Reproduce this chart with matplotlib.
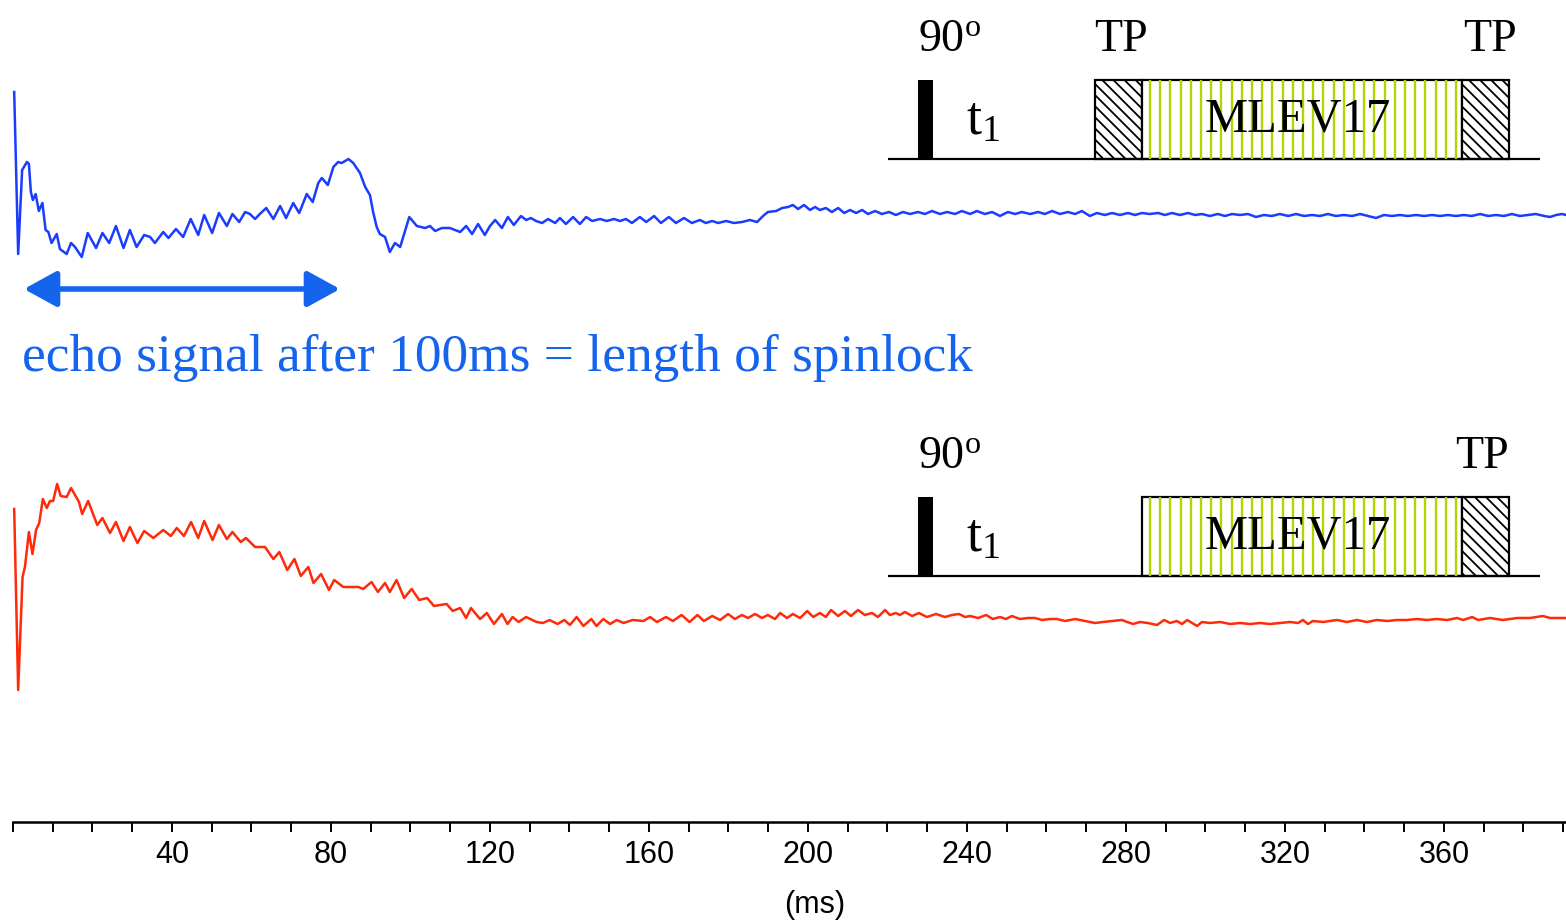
import matplotlib.pyplot as plt
import matplotlib.patches as mpatches
from matplotlib.ticker import MultipleLocator, FixedLocator
import numpy as np

plt.rcParams['font.family'] = ['Liberation Sans', 'DejaVu Sans']
plt.rcParams['hatch.linewidth'] = 1.3

# upper trace (echo after spinlock), time in ms, signal in arbitrary units
blue_t = [0.3, 1.3, 2.3, 3.5, 4.0, 4.5, 5.0, 5.7, 6.5, 7.4,
          8.2, 8.9, 9.7, 11.0, 11.8, 13.5, 14.6, 15.6, 17.3, 18.8,
          20.9, 22.5, 24.2, 25.9, 27.8, 29.4, 31.1, 33.0, 34.5, 35.7,
          37.8, 39.1, 41.0, 42.8, 44.7, 46.6, 48.1, 50.1, 51.8, 53.8,
          55.2, 56.9, 58.4, 59.6, 60.9, 62.1, 63.7, 65.5, 67.2, 68.7,
          70.5, 72.0, 73.9, 75.4, 76.8, 77.7, 79.2, 80.6, 81.8, 82.7,
          84.4, 85.6, 87.3, 88.6, 89.8, 90.6, 91.5, 92.3, 93.6, 94.8,
          96.1, 97.4, 99.7, 101.6, 103.7, 104.9, 106.2, 107.9, 109.9, 111.2,
          112.5, 114.0, 115.5, 117.0, 118.7, 120.0, 121.3, 123.0, 124.5, 126.0,
          127.8, 129.1, 130.3, 131.6, 133.1, 134.6, 136.4, 137.6, 139.1, 140.9,
          142.6, 144.2, 145.7, 147.7, 149.4, 151.2, 152.7, 154.2, 155.7, 157.7,
          159.3, 161.3, 163.0, 165.0, 166.8, 168.8, 170.8, 172.8, 174.3, 175.9,
          177.4, 179.4, 181.4, 183.4, 185.4, 187.2, 188.7, 189.9, 192.0, 193.5,
          195.0, 196.2, 197.5, 199.0, 200.5, 201.8, 203.0, 204.5, 206.0, 207.6,
          209.1, 210.6, 212.1, 213.6, 215.1, 216.9, 218.6, 220.4, 222.1, 223.9,
          225.7, 227.7, 229.4, 231.2, 233.2, 235.0, 237.0, 238.7, 240.8, 242.5,
          244.5, 246.3, 248.3, 250.3, 252.1, 253.8, 255.9, 257.9, 259.6, 261.4,
          263.4, 265.4, 267.2, 268.9, 270.9, 272.7, 274.7, 276.5, 278.5, 280.5,
          282.3, 284.0, 286.0, 288.1, 289.8, 291.6, 293.6, 295.6, 297.4, 299.1,
          301.1, 303.1, 304.9, 306.7, 308.7, 310.7, 312.7, 314.7, 316.7, 318.7,
          320.8, 322.8, 324.8, 326.8, 328.8, 330.8, 332.8, 334.8, 336.9, 338.9,
          340.9, 342.9, 344.9, 346.9, 348.9, 350.9, 353.0, 355.0, 357.0, 359.0,
          361.0, 363.0, 365.0, 367.0, 369.1, 371.1, 373.1, 375.1, 377.1, 379.1,
          381.1, 383.1, 385.2, 386.7, 388.2, 389.7, 390.7]
blue_v = [122, -40, 44, 52, 50, 22, 14, 20, 3, 11,
          -16, -18, -29, -20, -35, -40, -29, -33, -43, -19,
          -34, -19, -29, -12, -34, -16, -33, -21, -23, -29,
          -18, -24, -15, -23, -5, -21, -1, -19, 1, -12,
          0, -8, 2, 0, -5, 0, 6, -5, 8, -4,
          11, 1, 20, 12, 31, 36, 29, 47, 52, 51,
          55, 51, 41, 27, 19, 2, -13, -20, -23, -38,
          -29, -33, -3, -12, -14, -12, -17, -14, -14, -16,
          -18, -12, -20, -10, -21, -12, -6, -14, -3, -11,
          -2, -6, -4, -7, -9, -5, -9, -4, -10, -3,
          -10, -3, -7, -5, -7, -5, -7, -5, -9, -3,
          -8, -2, -9, -3, -9, -4, -9, -6, -9, -7,
          -9, -7, -9, -8, -6, -8, -2, 2, 3, 6,
          7, 9, 5, 9, 4, 7, 4, 6, 2, 6,
          1, 4, 1, 4, 0, 3, 0, 2, -1, 2,
          0, 2, 0, 3, 0, 2, 0, 3, 0, 3,
          0, 2, -2, 2, 0, 2, 0, 2, 0, 3,
          0, 2, 0, 3, -2, 1, -1, 1, -1, 1,
          -1, 1, 0, 1, -1, 1, -1, 1, -1, 0,
          -2, 0, -2, 0, -1, 0, -3, -1, -2, 0,
          -2, 0, -2, -1, -2, 0, -2, -1, -2, 0,
          -2, -4, -1, -2, -1, -2, -1, -2, -1, -2,
          -1, -2, -1, -2, 0, -2, -1, -2, 0, -2,
          -1, 0, -2, -3, -1, 0, -1]

# lower trace (no first trim pulse)
red_t = [0.3, 1.3, 2.4, 3.0, 4.0, 4.9, 5.8, 6.6, 7.5, 8.5,
         9.3, 10.1, 11.1, 12.0, 13.5, 14.6, 15.6, 16.6, 17.4, 18.9,
         21.2, 22.5, 24.4, 25.9, 27.8, 29.4, 31.3, 33.0, 35.3, 37.8,
         39.7, 41.2, 43.0, 44.8, 46.6, 48.1, 50.2, 51.8, 53.8, 55.2,
         57.3, 58.6, 60.9, 63.4, 65.5, 67.0, 69.0, 70.8, 72.4, 74.3,
         75.6, 77.5, 79.5, 80.8, 83.1, 86.9, 88.1, 90.2, 91.8, 93.6,
         94.8, 96.5, 98.4, 100.3, 102.2, 104.2, 105.9, 109.1, 110.6, 112.5,
         114.0, 115.2, 117.5, 119.2, 121.0, 123.0, 124.4, 125.7, 127.2, 129.1,
         131.7, 133.3, 135.0, 137.0, 138.7, 140.1, 141.8, 143.5, 145.5, 146.8,
         148.5, 150.2, 151.9, 153.6, 155.9, 158.6, 160.3, 162.0, 164.3, 166.0,
         168.2, 170.2, 172.2, 173.8, 175.9, 177.9, 179.9, 181.6, 183.4, 184.9,
         186.7, 188.4, 189.9, 191.7, 193.0, 194.7, 196.2, 198.0, 199.8, 201.3,
         203.0, 204.5, 205.8, 207.6, 209.3, 210.8, 212.6, 214.3, 216.1, 217.6,
         219.4, 220.6, 222.1, 223.1, 224.4, 226.2, 227.9, 229.9, 232.2, 234.5,
         236.2, 238.0, 239.5, 240.8, 242.8, 244.8, 246.5, 248.3, 249.8, 251.3,
         253.3, 255.4, 257.1, 258.9, 260.9, 262.6, 264.7, 267.2, 269.7, 272.2,
         274.2, 276.7, 279.0, 280.3, 281.8, 283.5, 285.5, 287.8, 289.6, 291.1,
         292.8, 294.1, 295.4, 297.9, 299.1, 301.1, 303.7, 306.2, 308.7, 311.2,
         313.7, 316.2, 318.7, 321.3, 323.3, 324.5, 325.8, 327.0, 329.6, 333.1,
         335.6, 338.1, 340.6, 343.1, 345.7, 348.2, 350.7, 353.2, 355.7, 358.2,
         360.8, 363.3, 364.8, 367.1, 368.6, 371.6, 374.8, 378.4, 381.6, 384.9,
         386.7, 390.4]
red_v = [112, -69, 44, 54, 89, 67, 91, 98, 122, 113,
         120, 120, 137, 125, 124, 133, 126, 119, 107, 120,
         96, 103, 88, 99, 80, 94, 78, 90, 83, 91,
         85, 93, 85, 99, 83, 100, 81, 96, 82, 89,
         79, 83, 74, 74, 62, 69, 51, 62, 45, 54,
         38, 47, 31, 41, 34, 34, 32, 39, 29, 38,
         29, 41, 23, 32, 21, 23, 15, 17, 10, 13,
         3, 13, 2, 8, -3, 7, -3, 4, -1, 4,
         -1, -2, 1, -3, 1, -4, 4, -5, 2, -5,
         2, -3, 1, -2, 1, 0, 4, -1, 4, 0,
         6, -1, 6, 0, 5, 1, 7, 2, 6, 3,
         7, 3, 6, 2, 8, 3, 7, 3, 10, 4,
         8, 4, 11, 5, 10, 5, 11, 6, 8, 4,
         11, 6, 8, 6, 9, 5, 8, 4, 7, 4,
         6, 7, 4, 5, 3, 6, 2, 4, 2, 5,
         2, 3, 3, 1, 2, 2, 0, 2, 0, -2,
         -1, 0, 1, -1, -3, -1, -2, -4, 1, -2,
         0, -3, 1, -5, -1, -2, -1, -3, -2, -3,
         -2, -3, -2, -1, -2, 1, -3, 0, -1, 1,
         -1, 1, -1, 1, 0, 1, 1, 2, 1, 2,
         1, 3, 1, 4, 1, 3, 1, 3, 3, 5,
         3, 3]

major_ticks = [40, 80, 120, 160, 200, 240, 280, 320, 360]

BLUE = '#1a3cff'
RED = '#ff2a0a'
ECHO = '#1464ee'
GREEN = '#b4d400'
SERIF = ['Liberation Serif', 'DejaVu Serif']

W, H = 1566, 922
fig = plt.figure(figsize=(W / 100, H / 100), dpi=100)

# trace axes, y in pixel-like units above the time axis
ax = fig.add_axes([13 / W, 100 / H, (W - 13) / W, 822 / H])
ax.set_xlim(0, 390.7)
ax.set_ylim(0, 822)
blue_base = 608
red_base = 201
ax.plot(blue_t, np.array(blue_v) + blue_base, color=BLUE, lw=1.8,
        solid_joinstyle='round', clip_on=False)
ax.plot(red_t, np.array(red_v) + red_base, color=RED, lw=1.8,
        solid_joinstyle='round', clip_on=False)

for s in ['left', 'right', 'top']:
    ax.spines[s].set_visible(False)
ax.spines['bottom'].set_linewidth(1.8)
ax.set_yticks([])
ax.xaxis.set_major_locator(FixedLocator(major_ticks))
ax.xaxis.set_minor_locator(MultipleLocator(10))
ax.tick_params(axis='x', which='both', direction='out', length=7.2, width=1.4,
               labelsize=22, pad=6)
ax.patch.set_visible(False)

# overlay in pixel coordinates for the schematics and notes
ov = fig.add_axes([0, 0, 1, 1])
ov.set_xlim(0, W)
ov.set_ylim(H, 0)
ov.axis('off')


def sequence(y0, first_tp):
    top = y0 - 79
    ov.plot([888, 1540], [y0, y0], color='black', lw=1.6, solid_capstyle='butt')
    ov.add_patch(mpatches.Rectangle((918, top), 15, 79, facecolor='black',
                                    edgecolor='black', lw=0))
    ov.text(918, y0 - 108, r'$\mathregular{90^o}$', family=SERIF, fontsize=33,
            ha='left', va='baseline')
    ov.text(966, y0 - 25, r'$\mathregular{t_1}$', family=SERIF, fontsize=39,
            ha='left', va='baseline')
    if first_tp:
        ov.add_patch(mpatches.Rectangle((1095, top), 47, 79, facecolor='white',
                                        edgecolor='black', lw=1.6, hatch='\\\\\\'))
        ov.text(1121, y0 - 108, 'TP', family=SERIF, fontsize=33,
                ha='center', va='baseline')
    ov.add_patch(mpatches.Rectangle((1142, top), 320, 79, facecolor='white',
                                    edgecolor='none', lw=0))
    ov.vlines(np.arange(1150, 1460, 10.2), top, y0, color=GREEN, lw=1.7)
    ov.add_patch(mpatches.Rectangle((1142, top), 320, 79, facecolor='none',
                                    edgecolor='black', lw=1.6))
    ov.text(1298, y0 - 28, 'MLEV17', family=SERIF, fontsize=35,
            ha='center', va='baseline')
    ov.add_patch(mpatches.Rectangle((1462, top), 47, 79, facecolor='white',
                                    edgecolor='black', lw=1.6, hatch='\\\\\\'))
    ov.text(1490 if first_tp else 1482, y0 - 108, 'TP', family=SERIF,
            fontsize=33, ha='center', va='baseline')


sequence(159, True)
sequence(576, False)

ov.annotate('', xy=(24, 289), xytext=(340, 289),
            arrowprops=dict(arrowstyle='<|-|>,head_length=1.0,head_width=0.55',
                            color=ECHO, lw=4, mutation_scale=20,
                            shrinkA=0, shrinkB=0))
ov.text(22, 371, 'echo signal after 100ms = length of spinlock', color=ECHO,
        family=SERIF, fontsize=38.4, ha='left', va='baseline')
ov.text(815, 905, '(ms)', fontsize=22, ha='center', va='center')

fig.savefig('out.png', dpi=100)
